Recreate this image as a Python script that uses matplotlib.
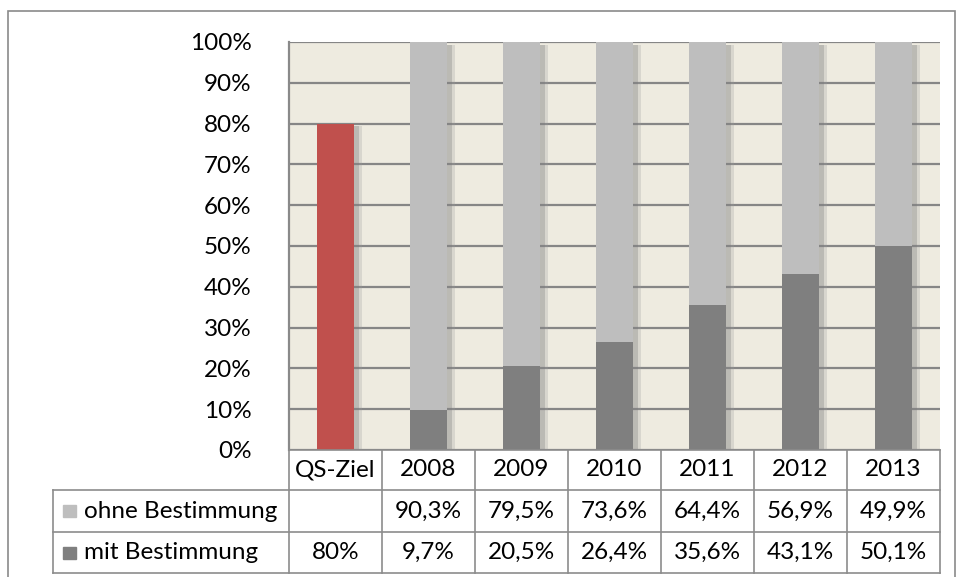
import matplotlib
matplotlib.use("Agg")
import matplotlib.pyplot as plt
import matplotlib.patheffects as pe
from matplotlib.patches import Rectangle
from matplotlib.lines import Line2D
import matplotlib.transforms as mtrans

plt.rcParams['font.family'] = ['Lato', 'DejaVu Sans']

categories = ["QS-Ziel", "2008", "2009", "2010", "2011", "2012", "2013"]
mit = [80, 9.7, 20.5, 26.4, 35.6, 43.1, 50.1]
ohne = [None, 90.3, 79.5, 73.6, 64.4, 56.9, 49.9]
mit_labels = ["80%", "9,7%", "20,5%", "26,4%", "35,6%", "43,1%", "50,1%"]
ohne_labels = ["", "90,3%", "79,5%", "73,6%", "64,4%", "56,9%", "49,9%"]
series_names = ["ohne Bestimmung", "mit Bestimmung"]
yticks = [0, 10, 20, 30, 40, 50, 60, 70, 80, 90, 100]

W, H = 956, 577
fig = plt.figure(figsize=(W / 100, H / 100), dpi=100)
fig.patch.set_facecolor('white')

def fx(px):
    return px / W

def fy(py):
    return 1 - py / H

# outer chart border
fig.add_artist(Rectangle((fx(8), fy(600)), fx(955) - fx(8), fy(11) - fy(600),
                         transform=fig.transFigure, fill=False,
                         edgecolor='#8a8a8a', linewidth=1.2))

left, right, top, bottom = 289, 940, 42, 450
ax = fig.add_axes([fx(left), fy(bottom), fx(right) - fx(left), fy(top) - fy(bottom)])
ax.set_facecolor('#EEEBE0')
n = len(categories)
ax.set_xlim(-0.5, n - 0.5)
ax.set_ylim(0, 100)
fs = 17.5
ax.set_yticks(yticks)
ax.set_yticklabels([f"{v}%" for v in yticks], fontsize=fs, color='black')
ax.tick_params(axis='y', length=0, pad=27)
ax.set_xticks([])
ax.yaxis.grid(True, color='#868686', linewidth=1.6)
ax.set_axisbelow(True)
for s in ['top', 'right', 'bottom']:
    ax.spines[s].set_visible(False)
ax.spines['left'].set_color('#8a8a8a')
ax.spines['left'].set_linewidth(1.6)

shadow = [pe.SimplePatchShadow(offset=(6, -2), shadow_rgbFace='#9a9a9a', alpha=0.25),
          pe.SimplePatchShadow(offset=(4, -2), shadow_rgbFace='#7a7a7a', alpha=0.3),
          pe.Normal()]
bw = 0.39
xs = list(range(n))
dark_colors = ['#C0504D'] + ['#7F7F7F'] * (n - 1)
ohne_vals = [v if v is not None else 0 for v in ohne]
b2 = ax.bar(xs, ohne_vals, bottom=mit, width=bw, color='#BEBEBE', zorder=2)
b1 = ax.bar(xs, mit, width=bw, color=dark_colors, zorder=3)
for r in list(b2) + list(b1):
    r.set_path_effects(shadow)

# data table
tcol = '#8c8c8c'
lw = 1.2
row_y = [450, 490, 532, 573]
col_x = [289 + i * (940 - 289) / n for i in range(n + 1)]
legend_left = 53

def hline(x0, x1, y):
    fig.add_artist(Line2D([fx(x0), fx(x1)], [fy(y), fy(y)], transform=fig.transFigure,
                          color=tcol, linewidth=lw))

def vline(x, y0, y1):
    fig.add_artist(Line2D([fx(x), fx(x)], [fy(y0), fy(y1)], transform=fig.transFigure,
                          color=tcol, linewidth=lw))

hline(289, 940, row_y[0])
hline(legend_left, 940, row_y[1])
hline(legend_left, 940, row_y[2])
hline(legend_left, 940, row_y[3])
for x in col_x:
    vline(x, row_y[0], row_y[3])
vline(legend_left, row_y[1], row_y[3])

trans = mtrans.blended_transform_factory(ax.transData, fig.transFigure)
for i, c in enumerate(categories):
    ax.text(i, fy((row_y[0] + row_y[1]) / 2), c, transform=trans, ha='center', va='center',
            fontsize=fs, clip_on=False)
    ax.text(i, fy((row_y[1] + row_y[2]) / 2), ohne_labels[i], transform=trans, ha='center',
            va='center', fontsize=fs, clip_on=False)
    ax.text(i, fy((row_y[2] + row_y[3]) / 2), mit_labels[i], transform=trans, ha='center',
            va='center', fontsize=fs, clip_on=False)

for k, (name, col) in enumerate(zip(series_names, ['#BEBEBE', '#7F7F7F'])):
    yc = (row_y[1 + k] + row_y[2 + k]) / 2
    fig.add_artist(Rectangle((fx(63), fy(yc + 6)), fx(13), fy(yc - 6) - fy(yc + 6),
                             transform=fig.transFigure, color=col))
    fig.text(fx(84), fy(yc), name, ha='left', va='center', fontsize=fs)

fig.savefig('out.png', dpi=100, facecolor='white')
